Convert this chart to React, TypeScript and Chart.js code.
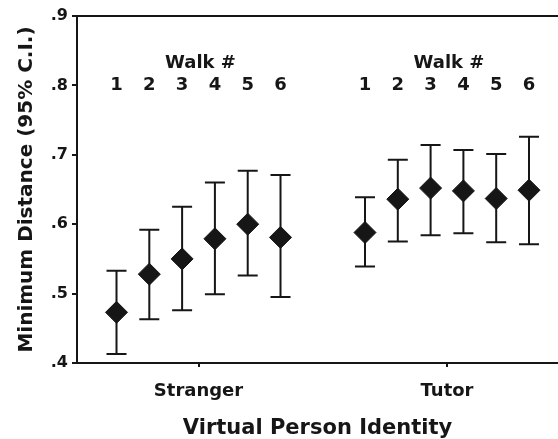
import React, { useEffect, useRef } from 'react';
import { Chart, registerables } from 'chart.js';

Chart.register(...registerables);

// ---- data ----
const categories = ['Stranger', 'Tutor'];
const walkLabels = ['1', '2', '3', '4', '5', '6'];
const yTicks = [0.4, 0.5, 0.6, 0.7, 0.8, 0.9];

const strangerMean = [0.473, 0.528, 0.55, 0.579, 0.6, 0.581];
const strangerLower = [0.413, 0.463, 0.476, 0.499, 0.526, 0.495];
const strangerUpper = [0.533, 0.592, 0.625, 0.66, 0.677, 0.671];

const tutorMean = [0.588, 0.636, 0.652, 0.648, 0.637, 0.649];
const tutorLower = [0.539, 0.575, 0.584, 0.587, 0.574, 0.571];
const tutorUpper = [0.639, 0.693, 0.714, 0.707, 0.701, 0.726];

const means = [strangerMean, tutorMean];
const lowers = [strangerLower, tutorLower];
const uppers = [strangerUpper, tutorUpper];

// ---- style ----
const INK = '#161616';
const FAMILY = '"DejaVu Sans", Arial, sans-serif';
const WALK_STEP = 0.132;
const walkX = (cat: number, i: number) => cat + (i - (walkLabels.length - 1) / 2) * WALK_STEP;

const errorBars = {
  id: 'errorBars',
  beforeDatasetsDraw(chart: any) {
    const { ctx, scales } = chart;
    const x = scales.x;
    const y = scales.y;
    ctx.save();
    ctx.strokeStyle = INK;
    ctx.lineWidth = 2;
    categories.forEach((_, c) => {
      walkLabels.forEach((_, i) => {
        const px = x.getPixelForValue(walkX(c, i));
        const lo = y.getPixelForValue(lowers[c][i]);
        const hi = y.getPixelForValue(uppers[c][i]);
        ctx.beginPath();
        ctx.moveTo(px, lo);
        ctx.lineTo(px, hi);
        ctx.moveTo(px - 10, lo);
        ctx.lineTo(px + 10, lo);
        ctx.moveTo(px - 10, hi);
        ctx.lineTo(px + 10, hi);
        ctx.stroke();
      });
    });
    ctx.restore();
  },
};

const walkHeaders = {
  id: 'walkHeaders',
  afterDraw(chart: any) {
    const { ctx, scales } = chart;
    const x = scales.x;
    const y = scales.y;
    const digitY = y.getPixelForValue(0.8);
    ctx.save();
    ctx.fillStyle = INK;
    ctx.textAlign = 'center';
    ctx.textBaseline = 'middle';
    ctx.font = `bold 18px ${FAMILY}`;
    categories.forEach((_, c) => {
      ctx.fillText('Walk #', x.getPixelForValue(c) + 2, digitY - 22);
      walkLabels.forEach((w, i) => {
        ctx.fillText(w, x.getPixelForValue(walkX(c, i)), digitY);
      });
    });
    ctx.restore();
  },
};

export default function App() {
  const ref = useRef<HTMLCanvasElement | null>(null);

  useEffect(() => {
    if (!ref.current) return;
    Chart.defaults.font.family = FAMILY;
    const chart = new Chart(ref.current, {
      type: 'scatter',
      data: {
        datasets: categories.map((c, ci) => ({
          label: c,
          data: means[ci].map((m, i) => ({ x: walkX(ci, i), y: m })),
          pointStyle: 'rectRot',
          pointRadius: 11,
          pointHoverRadius: 11,
          backgroundColor: INK,
          borderColor: INK,
          borderWidth: 1,
          showLine: false,
        })),
      },
      options: {
        animation: false,
        responsive: false,
        devicePixelRatio: 1,
        layout: { autoPadding: false, padding: { top: 16, left: 0, right: 0, bottom: 0 } },
        plugins: { legend: { display: false }, tooltip: { enabled: false } },
        scales: {
          x: {
            type: 'linear',
            min: -0.489,
            max: 1.4467,
            afterBuildTicks: (s: any) => {
              s.ticks = categories.map((_, i) => ({ value: i }));
            },
            afterFit: (s: any) => {
              s.height = 76;
              s.paddingLeft = 0;
              s.paddingRight = 0;
            },
            border: { display: true, width: 2, color: INK },
            grid: { drawOnChartArea: false, drawTicks: true, tickLength: 4, tickColor: INK, lineWidth: 2 },
            ticks: {
              color: INK,
              padding: 14,
              font: { size: 18, weight: 'bold' },
              callback: (v: any) => categories[Number(v)] ?? '',
            },
            title: {
              display: true,
              text: 'Virtual Person Identity',
              color: INK,
              font: { size: 21, weight: 'bold', lineHeight: 1 },
              padding: 0,
            },
          },
          y: {
            min: 0.4,
            max: 0.9,
            afterBuildTicks: (s: any) => {
              s.ticks = yTicks.map((v) => ({ value: v }));
            },
            afterFit: (s: any) => {
              s.width = 77;
            },
            border: { display: true, width: 2, color: INK },
            grid: {
              drawOnChartArea: true,
              color: (c: any) => (c.tick && c.tick.value === 0.9 ? INK : 'rgba(0,0,0,0)'),
              tickColor: INK,
              lineWidth: 2,
              tickLength: 5,
            },
            ticks: {
              color: INK,
              padding: 4,
              font: { size: 16, weight: 'bold' },
              callback: (v: any) => Number(v).toFixed(1).replace(/^0/, ''),
            },
            title: {
              display: true,
              text: 'Minimum Distance (95% C.I.)',
              color: INK,
              font: { size: 20, weight: 'bold' },
              padding: { top: 15, bottom: 0 },
            },
          },
        },
      },
      plugins: [errorBars, walkHeaders],
    } as any);
    return () => chart.destroy();
  }, []);

  return (
    <div style={{ position: 'absolute', left: 0, top: 0, width: 558, height: 439, background: '#fff' }}>
      <canvas ref={ref} width={558} height={439} style={{ display: 'block' }} />
    </div>
  );
}
